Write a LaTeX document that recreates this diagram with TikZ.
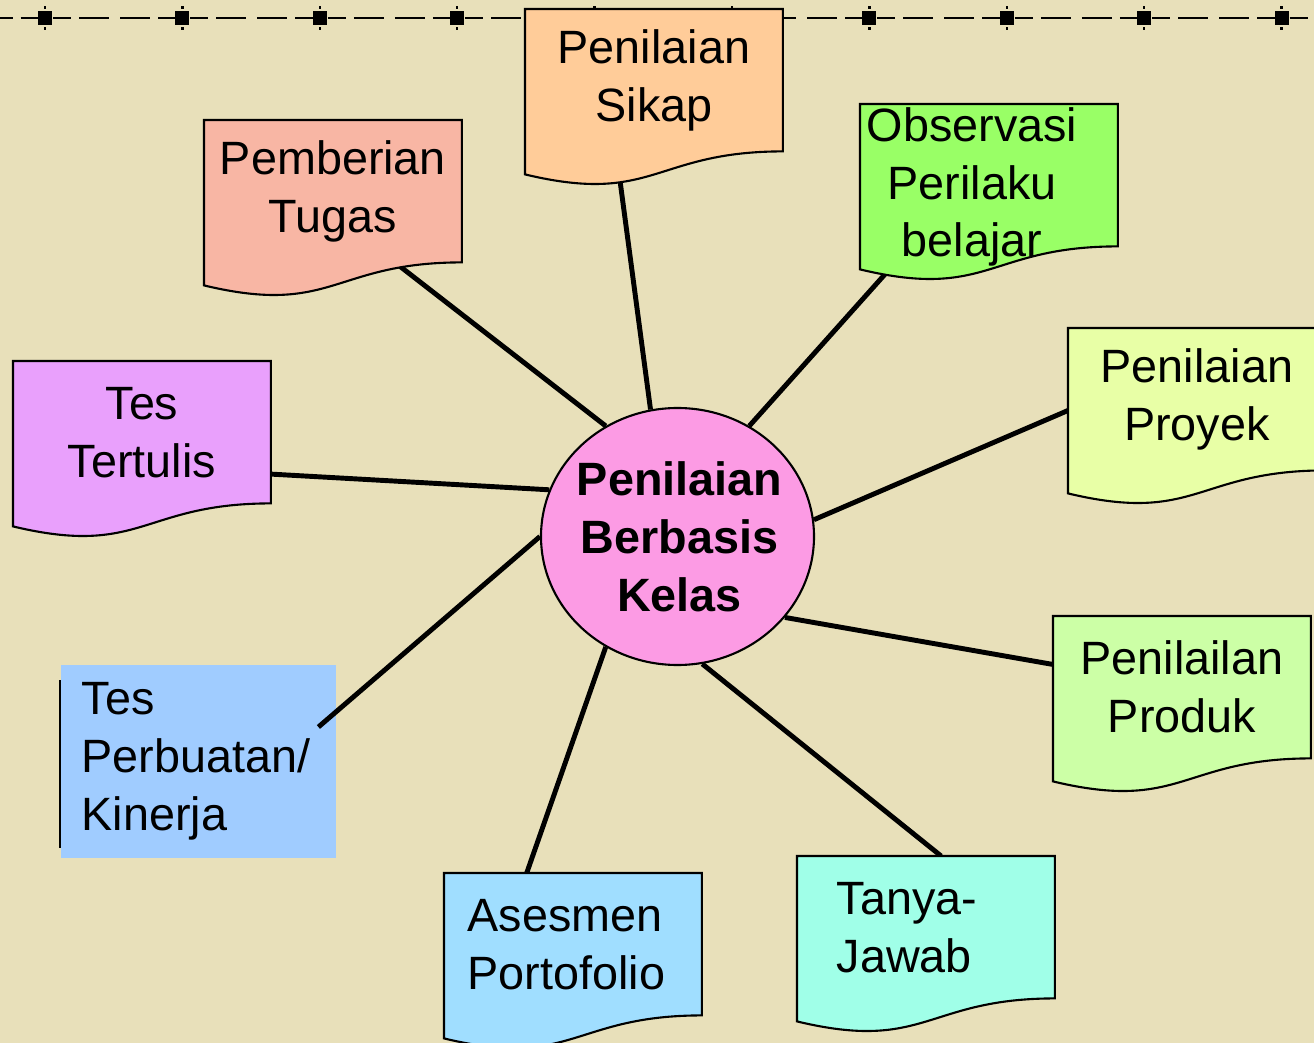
\documentclass[tikz,border=0pt]{standalone}
\usepackage{fontspec}
\setmainfont{Liberation Sans}
\usetikzlibrary{shapes.geometric, calc}
\definecolor{paper}{RGB}{232,224,186}
\definecolor{sikapfill}{RGB}{255,204,153}
\definecolor{tugasfill}{RGB}{248,182,164}
\definecolor{observasifill}{RGB}{153,255,102}
\definecolor{proyekfill}{RGB}{232,255,166}
\definecolor{produkfill}{RGB}{204,255,166}
\definecolor{tanyafill}{RGB}{160,255,232}
\definecolor{asesmenfill}{RGB}{160,222,255}
\definecolor{tertulisfill}{RGB}{233,160,252}
\definecolor{kinerjafill}{RGB}{160,204,255}
\definecolor{pbkfill}{RGB}{252,155,228}
\pgfdeclarelayer{back}
\pgfdeclarelayer{lines}
\pgfdeclarelayer{shapes}
\pgfsetlayers{back,lines,shapes,main}
\newcommand{\boxfont}{\fontsize{13.3}{16.5}\selectfont}
\tikzset{
    docbox/.style={rectangle, anchor=north west, minimum width=2.565cm, minimum height=1.41cm, inner sep=0pt, align=center, font=\boxfont},
    outline/.style={draw=black, line width=0.6pt},
    spoke/.style={line width=1.4pt}
}

\begin{document}
\begin{tikzpicture}
        \useasboundingbox (0,0) rectangle (13.14,-10.43);
        % Boxes around the centre
        \node[docbox] (sikap) at (5.25,-0.09) {Penilaian\\Sikap};
        \node[docbox] (tugas) at (2.04,-1.20) {Pemberian\\Tugas};
        \node[docbox] (observasi) at (8.60,-1.04) {};
        \node[align=center, font=\boxfont, anchor=base, inner sep=0pt] (observasitext) at (9.72,-2.57) {Observasi\\Perilaku\\belajar};
        \node[docbox] (proyek) at (10.68,-3.28) {Penilaian\\Proyek};
        \node[docbox] (produk) at (10.53,-6.16) {Penilailan\\Produk};
        \node[docbox, align=left, text width=1.785cm, inner xsep=0.39cm] (tanya) at (7.97,-8.56) {Tanya-\\Jawab};
        \node[docbox, align=left, text width=2.105cm, inner xsep=0.23cm] (asesmen) at (4.44,-8.73) {Asesmen\\Portofolio};
        \node[docbox] (tertulis) at (0.13,-3.61) {Tes\\Tertulis};
        \node[rectangle, anchor=north west, minimum width=2.74cm, minimum height=1.92cm, text width=2.34cm, inner xsep=0.2cm, inner ysep=0pt, align=left, font=\boxfont] (kinerja) at (0.61,-6.65) {Tes\\Perbuatan/\\Kinerja};
        % Centre
        \node[ellipse, outline, fill=pbkfill, minimum width=2.73cm, minimum height=2.57cm, inner sep=0pt] (pbk) at (6.775,-5.365) {};
        \node[align=center, font=\bfseries\boxfont] (pbktext) at ([xshift=0.02cm]pbk.center) {Penilaian\\Berbasis\\Kelas};

        % Paper and top rule
        \begin{pgfonlayer}{back}
        \fill[paper] (0,0) rectangle (13.14,-10.43);
        \foreach \k in {-1,...,9}{
            \pgfmathsetmacro\hx{0.45+1.374*\k}
            \fill (\hx-0.07,-0.11) rectangle (\hx+0.07,-0.25);
            \fill (\hx-0.012,-0.06) rectangle (\hx+0.012,-0.09);
            \fill (\hx-0.012,-0.27) rectangle (\hx+0.012,-0.30);
            \draw[line width=0.6pt] (\hx+0.08,-0.18) -- (\hx+0.26,-0.18) (\hx+0.34,-0.18) -- (\hx+0.64,-0.18)
                (\hx+0.75,-0.18) -- (\hx+1.05,-0.18) (\hx+1.13,-0.18) -- (\hx+1.31,-0.18);
        }
        \fill[kinerjafill] (kinerja.north west) rectangle (kinerja.south east);
        \draw[line width=0.5pt] ([xshift=-0.01cm,yshift=-0.15cm]kinerja.north west) -- ([xshift=-0.01cm,yshift=0.10cm]kinerja.south west);
        \end{pgfonlayer}

        % Document shapes
        \begin{pgfonlayer}{shapes}
        \foreach \n/\col in {sikap/sikapfill, tugas/tugasfill, observasi/observasifill, proyek/proyekfill,
                produk/produkfill, tanya/tanyafill, asesmen/asesmenfill, tertulis/tertulisfill}
            \filldraw[outline, fill=\col] (\n.north west) -- (\n.north east) -- (\n.south east)
                .. controls (\n.south) and ([yshift=-0.54cm]\n.south) .. ([yshift=-0.23cm]\n.south west) -- cycle;
        \end{pgfonlayer}

        % Spokes
        \begin{pgfonlayer}{lines}
        \coordinate (kinerjaEnd) at ([xshift=-0.18cm,yshift=-0.62cm]kinerja.north east);
        \draw[spoke] (pbk.102) -- (sikap.-118);
        \draw[spoke] (pbk.123) -- (tugas.-49);
        \draw[spoke] (pbk.57) -- (observasi.-138);
        \draw[spoke] (pbk.7) -- (proyek.185);
        \draw[spoke] (pbk.-37) -- (produk.170);
        \draw[spoke] (pbk.-79) -- (tanya.78);
        \draw[spoke] (pbk.237) -- (asesmen.123);
        \draw[spoke] (pbk.160) -- (tertulis.-18);
        \draw[spoke] (pbk.180) -- (kinerjaEnd);
        \end{pgfonlayer}
    \end{tikzpicture}
\end{document}
